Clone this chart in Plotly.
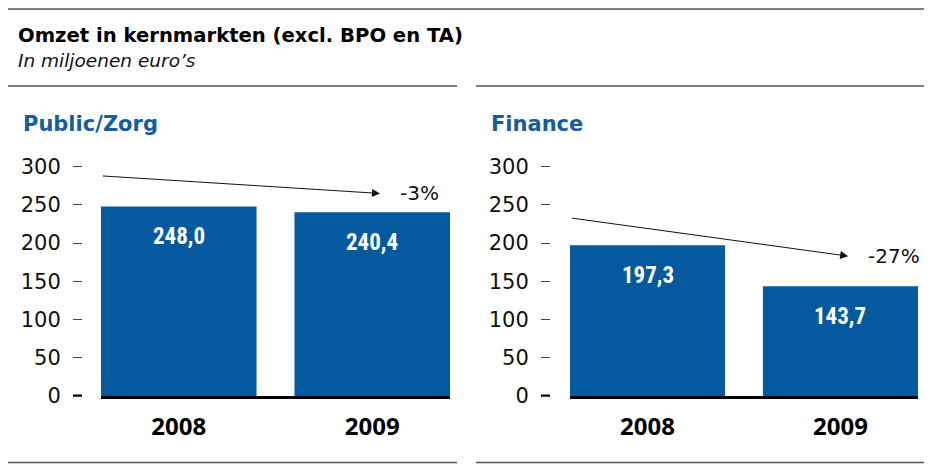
import plotly.graph_objects as go

title = "Omzet in kernmarkten (excl. BPO en TA)"
subtitle = "In miljoenen euro’s"
panels = ["Public/Zorg", "Finance"]
years = ["2008", "2009"]
public_zorg = [248.0, 240.4]
finance = [197.3, 143.7]
labels_pz = ["248,0", "240,4"]
labels_fin = ["197,3", "143,7"]
changes = ["-3%", "-27%"]
y_ticks = [0, 50, 100, 150, 200, 250, 300]
# trend arrows: (x start, y start) -> (x end, y end) in axis units
arrow_start_x = [-0.40, -0.40]
arrow_start_y = [288, 233]
arrow_end_x = [1.04, 1.04]
arrow_end_y = [265, 183]

BLUE = "#05599e"
OFF = 8  # page body margin
W, H = 932 - 2 * OFF, 472 - 2 * OFF
FONT = "DejaVu Sans, sans-serif"
YEARF = "Open Sans, DejaVu Sans, sans-serif"
NARROW = "Liberation Sans Narrow, Roboto Condensed, Arial Narrow, sans-serif"


def px(x):
    return (x - OFF) / W


def py(y):
    return 1 - (y - OFF) / H


fig = go.Figure()
series = [public_zorg, finance]
labels = [labels_pz, labels_fin]
xdom = [[px(101), px(450)], [px(570), px(918)]]
ypos = [px(82), px(550)]
ydom = [py(396), py(166.7)]
g = 0.196

for i in range(2):
    xa = "x" if i == 0 else "x2"
    ya = "y" if i == 0 else "y2"
    fig.add_trace(go.Bar(x=years, y=series[i], marker_color=BLUE, marker_line_width=0,
                         xaxis=xa, yaxis=ya, showlegend=False, hoverinfo="skip"))
    for j in range(2):
        fig.add_annotation(x=j, y=series[i][j], xref=xa, yref=ya, text=labels[i][j],
                           showarrow=False, yshift=-30,
                           font=dict(family=NARROW, size=23, color="white", weight="bold"))
    fig.add_annotation(x=arrow_end_x[i], y=arrow_end_y[i], ax=arrow_start_x[i], ay=arrow_start_y[i],
                       xref=xa, yref=ya, axref=xa, ayref=ya, text="", showarrow=True,
                       arrowhead=2, arrowsize=1.6, arrowwidth=1, arrowcolor="#111")
    fig.add_annotation(x=arrow_end_x[i], y=arrow_end_y[i], xref=xa, yref=ya, text=changes[i],
                       showarrow=False, xanchor="left", xshift=18, yshift=0,
                       font=dict(family=FONT, size=20, color="#111"))
    xkey = "xaxis" if i == 0 else "xaxis2"
    ykey = "yaxis" if i == 0 else "yaxis2"
    fig.layout[xkey] = dict(domain=xdom[i], anchor=ya, type="category",
                            range=[-0.5 + g / 2, 1.5 - g / 2], automargin=False,
                            showline=True, linecolor="#000", linewidth=3,
                            ticks="", ticklabelstandoff=7, showgrid=False, zeroline=False,
                            tickfont=dict(family=YEARF, size=24, color="#000", weight="bold"))
    fig.layout[ykey] = dict(domain=ydom, anchor="free", position=ypos[i], range=[0, 300],
                            tickvals=y_ticks, ticks="outside", ticklen=9, tickwidth=1,
                            tickcolor="#444", showline=False, showgrid=False, zeroline=False,
                            ticklabelstandoff=8, automargin=False,
                            tickfont=dict(family=FONT, size=21, color="#111"))
    # heavier zero tick
    fig.add_shape(type="line", xref="paper", yref=ya, x0=ypos[i] - 9 / W, x1=ypos[i], y0=0, y1=0,
                  line=dict(color="#000", width=3))
    # panel titles
    fig.add_annotation(x=px([21, 489][i]), y=py(124), xref="paper", yref="paper",
                       text=panels[i], showarrow=False, xanchor="left", yanchor="middle",
                       font=dict(family=FONT, size=21, color="#175c9c", weight="bold"))

fig.add_annotation(x=px(16), y=py(35), xref="paper", yref="paper", text=title,
                   showarrow=False, xanchor="left", yanchor="middle",
                   font=dict(family=FONT, size=19.6, color="#000", weight="bold"))
fig.add_annotation(x=px(16), y=py(61), xref="paper", yref="paper", text=subtitle,
                   showarrow=False, xanchor="left", yanchor="middle",
                   font=dict(family=FONT, size=18.5, color="#111", style="italic"))

LINE = dict(color="#555", width=1.5)
fig.add_shape(type="line", xref="paper", yref="paper", x0=px(8), x1=px(932), y0=py(9), y1=py(9), line=LINE)
for x0, x1 in [(8, 457), (476, 925)]:
    for yy in [86, 462.5]:
        fig.add_shape(type="line", xref="paper", yref="paper", x0=px(x0), x1=px(x1),
                      y0=py(yy), y1=py(yy), line=LINE)

fig.update_layout(width=W, height=H, margin=dict(l=0, r=0, t=0, b=0, pad=0), bargap=g,
                  template="none", plot_bgcolor="white", paper_bgcolor="white")
fig.write_html("out.html")
